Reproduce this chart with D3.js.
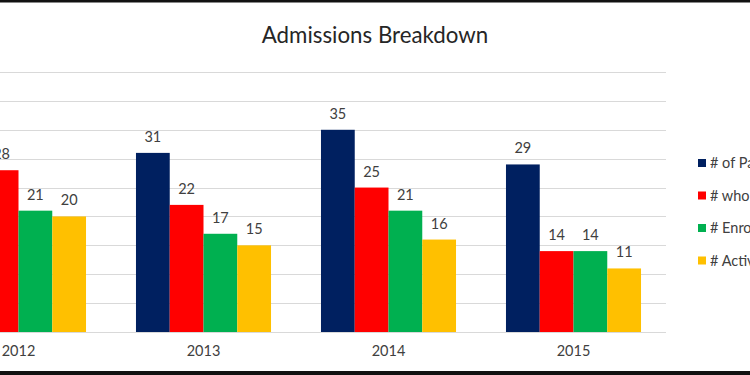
<!DOCTYPE html>
<html>
<head>
<meta charset="utf-8">
<script src="https://cdn.jsdelivr.net/npm/d3@7"></script>
<style>
  body { margin: 0; background: #fff; }
  svg { display: block; font-family: Lato, "Open Sans", sans-serif; }
</style>
</head>
<body>
<svg width="750" height="375"></svg>
<script>
// chart data
let years = ['2012', '2013', '2014', '2015'];
let seriesNames = ['# of Participants', '# who Applied', '# Enrolled', '# Active'];
let seriesColors = ['#002060', '#ff0000', '#00b050', '#ffc000'];
let participants = [30, 31, 35, 29];
let applied = [28, 22, 25, 14];
let enrolled = [21, 17, 21, 14];
let active = [20, 15, 16, 11];
let yTicks = [0, 5, 10, 15, 20, 25, 30, 35, 40, 45];

let allSeries = [participants, applied, enrolled, active];

let svgWidth = 750, svgHeight = 375;
let svg = d3.select('svg');

// plot area is partly cut off on the left, like the picture
let x0 = d3.scaleBand()
    .domain(years)
    .range([-74, 666])
    .paddingInner(0.27)
    .paddingOuter(0.135);

let x1 = d3.scaleBand()
    .domain(d3.range(seriesNames.length))
    .range([0, x0.bandwidth()]);

let y = d3.scaleLinear()
    .domain([0, 45])
    .range([332, 72]);

// gridlines
svg.append('g')
    .selectAll('line')
    .data(yTicks)
    .enter()
    .append('line')
    .attr('x1', 0)
    .attr('x2', 666)
    .attr('y1', d => Math.round(y(d)) + 0.5)
    .attr('y2', d => Math.round(y(d)) + 0.5)
    .attr('stroke', '#d9d9d9')
    .attr('stroke-width', 1);

// bars
let groups = svg.append('g')
    .selectAll('g')
    .data(years)
    .enter()
    .append('g')
    .attr('transform', d => 'translate(' + x0(d) + ',0)');

groups.selectAll('rect')
    .data((d, i) => allSeries.map((s, k) => ({ k: k, v: s[i] })))
    .enter()
    .append('rect')
    .attr('x', d => x1(d.k))
    .attr('width', x1.bandwidth())
    .attr('y', d => y(d.v))
    .attr('height', d => y(0) - y(d.v))
    .attr('fill', d => seriesColors[d.k]);

groups.selectAll('text')
    .data((d, i) => allSeries.map((s, k) => ({ k: k, v: s[i] })))
    .enter()
    .append('text')
    .attr('x', d => x1(d.k) + x1.bandwidth() / 2)
    .attr('y', d => y(d.v) - 11)
    .attr('text-anchor', 'middle')
    .attr('font-size', 14.5)
    .attr('fill', '#404040')
    .text(d => d.v);

// x axis labels
let xAxis = svg.append('g')
    .attr('transform', 'translate(0,332)')
    .call(d3.axisBottom(x0).tickSize(0).tickPadding(14));
xAxis.select('.domain').remove();
xAxis.selectAll('text')
    .attr('font-family', 'Lato, sans-serif')
    .attr('font-size', 14.5)
    .attr('fill', '#404040');

// title
svg.append('text')
    .attr('x', 375)
    .attr('y', 43)
    .attr('text-anchor', 'middle')
    .attr('font-size', 22.3)
    .attr('fill', '#262626')
    .text('Admissions Breakdown');

// legend
let legend = svg.append('g')
    .selectAll('g')
    .data(seriesNames)
    .enter()
    .append('g')
    .attr('transform', (d, i) => 'translate(698,' + (159 + i * 32.5) + ')');

legend.append('rect')
    .attr('width', 8)
    .attr('height', 8)
    .attr('fill', (d, i) => seriesColors[i]);

legend.append('text')
    .attr('x', 12)
    .attr('y', 9)
    .attr('font-size', 14.5)
    .attr('fill', '#404040')
    .text(d => d);

// dark frame edges of the picture
svg.append('rect').attr('x', 0).attr('y', 0).attr('width', svgWidth).attr('height', 2.5).attr('fill', '#111');
svg.append('rect').attr('x', 0).attr('y', 371).attr('width', svgWidth).attr('height', 4).attr('fill', '#111');
</script>
</body>
</html>
